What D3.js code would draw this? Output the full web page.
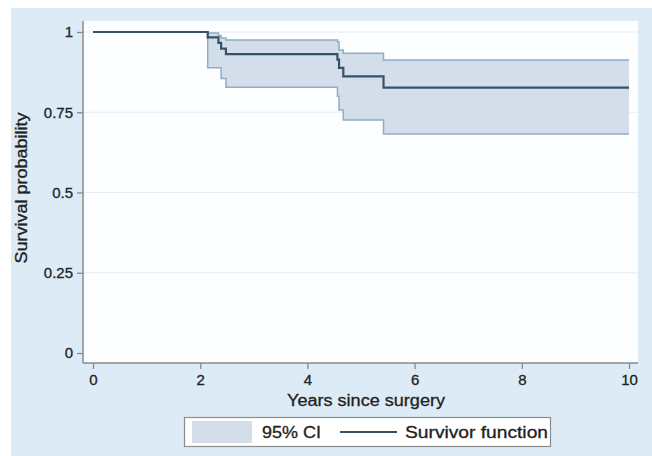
<html>
<head>
<meta charset="UTF-8">
<title>Survival</title>
<style>
  body { margin: 0; background: #ffffff; }
  svg { display: block; font-family: "Liberation Sans", Arial, sans-serif; }
  svg text { stroke: #222; stroke-width: 0.3px; }
</style>
</head>
<body>
<svg id="chart" width="652" height="456"></svg>
<script src="https://cdn.jsdelivr.net/npm/d3@7"></script>
<script>
// Kaplan-Meier estimate
var times = [0, 2.14, 2.34, 2.39, 2.48, 4.56, 4.59, 4.67, 5.42, 10];
var surv  = [1, 0.983, 0.966, 0.948, 0.931, 0.914, 0.888, 0.862, 0.827, 0.827];
var upper = [1, 0.997, 0.989, 0.981, 0.975, 0.970, 0.944, 0.934, 0.913, 0.913];
var lower = [1, 0.889, 0.889, 0.855, 0.828, 0.800, 0.757, 0.726, 0.682, 0.682];

var xTicks = [0, 2, 4, 6, 8, 10];
var yTicks = [0, 0.25, 0.5, 0.75, 1];
var yTickLabels = ["0", "0.25", "0.5", "0.75", "1"];
var legendLabels = ["95% CI", "Survivor function"];

var bandFill = "#d3deea", bandEdge = "#8eadc6", survColor = "#375169";

var svg = d3.select("#chart");

var plot = {left: 83, right: 638, top: 21, bottom: 363};
var x = d3.scaleLinear().domain([0, 10]).range([93, 629]);
var y = d3.scaleLinear().domain([0, 1]).range([353, 32]);

var rows = times.map(function(t, i) {
    return {t: t, s: surv[i], lo: lower[i], hi: upper[i]};
});

// outer background
svg.append("rect")
    .attr("x", 11).attr("y", 8)
    .attr("width", 641).attr("height", 448)
    .attr("fill", "#dcebf5");

// plot region
svg.append("rect")
    .attr("x", plot.left).attr("y", plot.top)
    .attr("width", plot.right - plot.left).attr("height", plot.bottom - plot.top)
    .attr("fill", "#fdfeff");

// grid lines
svg.append("g").selectAll("line")
    .data(yTicks.filter(function(d) { return d > 0; }))
    .enter().append("line")
    .attr("x1", plot.left).attr("x2", plot.right)
    .attr("y1", function(d) { return y(d); })
    .attr("y2", function(d) { return y(d); })
    .attr("stroke", "#e4ecf5")
    .attr("stroke-width", 1.2);

// confidence band
var area = d3.area()
    .curve(d3.curveStepAfter)
    .x(function(d) { return x(d.t); })
    .y0(function(d) { return y(d.lo); })
    .y1(function(d) { return y(d.hi); });

svg.append("path")
    .datum(rows)
    .attr("d", area)
    .attr("fill", bandFill);

var stepLine = function(key) {
    return d3.line()
        .curve(d3.curveStepAfter)
        .x(function(d) { return x(d.t); })
        .y(function(d) { return y(d[key]); });
};

["lo", "hi"].forEach(function(k) {
    svg.append("path")
        .datum(rows)
        .attr("d", stepLine(k))
        .attr("fill", "none")
        .attr("stroke", bandEdge)
        .attr("stroke-width", 1.5);
});

svg.append("path")
    .datum(rows)
    .attr("d", stepLine("s"))
    .attr("fill", "none")
    .attr("stroke", survColor)
    .attr("stroke-width", 2.2);

// axes
var axisColor = "#8a8a8a", textColor = "#222";

var yAxis = svg.append("g")
    .attr("transform", "translate(" + plot.left + ",0)")
    .call(d3.axisLeft(y).tickValues(yTicks).tickSize(6).tickPadding(4)
        .tickFormat(function(d, i) { return yTickLabels[i]; }));

var xAxis = svg.append("g")
    .attr("transform", "translate(0," + plot.bottom + ")")
    .call(d3.axisBottom(x).tickValues(xTicks).tickSize(6).tickPadding(5)
        .tickFormat(d3.format("d")));

[xAxis, yAxis].forEach(function(g) {
    g.attr("font-size", null).attr("font-family", null);
    g.select(".domain").remove();
    g.selectAll(".tick line").attr("stroke", axisColor).attr("stroke-width", 1.3);
    g.selectAll(".tick text")
        .attr("fill", textColor)
        .style("font-size", "15px");
});

svg.append("line")
    .attr("x1", plot.left).attr("x2", plot.left)
    .attr("y1", plot.top).attr("y2", plot.bottom)
    .attr("stroke", axisColor).attr("stroke-width", 1.5);
svg.append("line")
    .attr("x1", plot.left).attr("x2", plot.right)
    .attr("y1", plot.bottom).attr("y2", plot.bottom)
    .attr("stroke", axisColor).attr("stroke-width", 1.5);

// axis titles
svg.append("text")
    .attr("x", 366).attr("y", 406)
    .attr("text-anchor", "middle")
    .attr("font-size", 16)
    .attr("textLength", 158).attr("lengthAdjust", "spacingAndGlyphs")
    .attr("fill", textColor)
    .text("Years since surgery");

svg.append("text")
    .attr("transform", "translate(27,188) rotate(-90)")
    .attr("text-anchor", "middle")
    .attr("font-size", 16)
    .attr("textLength", 151).attr("lengthAdjust", "spacingAndGlyphs")
    .attr("fill", textColor)
    .text("Survival probability");

// legend
var legend = svg.append("g");
legend.append("rect")
    .attr("x", 184.5).attr("y", 417.5)
    .attr("width", 366).attr("height", 29)
    .attr("fill", "#ffffff")
    .attr("stroke", "#8c8c8c").attr("stroke-width", 1.2);
legend.append("rect")
    .attr("x", 192).attr("y", 421)
    .attr("width", 60).attr("height", 22)
    .attr("fill", bandFill);
legend.append("text")
    .attr("x", 262).attr("y", 438)
    .attr("font-size", 16)
    .attr("textLength", 59).attr("lengthAdjust", "spacingAndGlyphs")
    .attr("fill", textColor)
    .text(legendLabels[0]);
legend.append("line")
    .attr("x1", 340).attr("x2", 397)
    .attr("y1", 432).attr("y2", 432)
    .attr("stroke", survColor).attr("stroke-width", 2);
legend.append("text")
    .attr("x", 405).attr("y", 438)
    .attr("font-size", 16)
    .attr("textLength", 143).attr("lengthAdjust", "spacingAndGlyphs")
    .attr("fill", textColor)
    .text(legendLabels[1]);
</script>
</body>
</html>
